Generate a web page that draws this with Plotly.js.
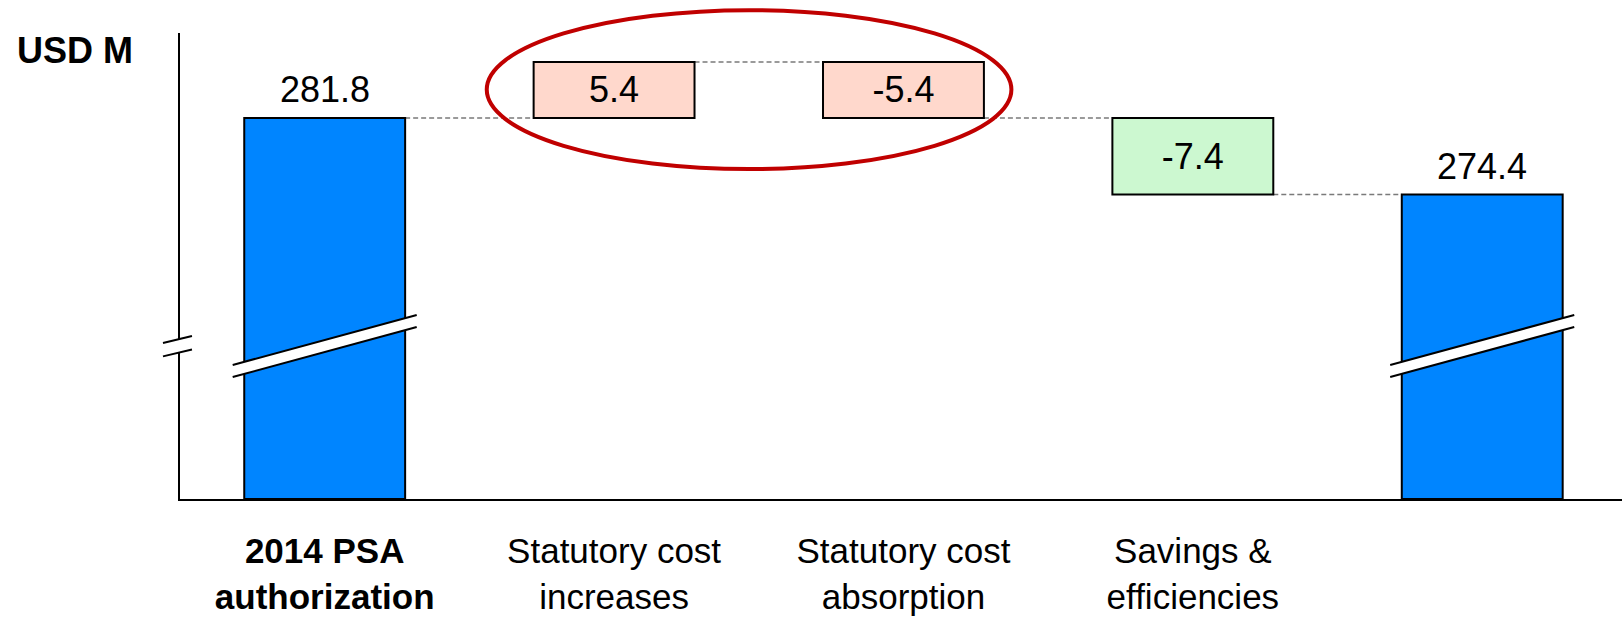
<!DOCTYPE html>
<html>
<head>
<meta charset="utf-8">
<script src="https://cdn.plot.ly/plotly-3.0.1.min.js"></script>
<style>
  html, body { margin: 0; padding: 0; background: #ffffff; }
  #chart { width: 1622px; height: 617px; }
</style>
</head>
<body>
<div id="chart"></div>
<script>
// Budget bridge, USD millions
const categories = ['2014 PSA authorization', 'Statutory cost increases', 'Statutory cost absorption', 'Savings & efficiencies', 'Revised total'];
const tickLabels = ['<b>2014 PSA</b><br><b>authorization</b>', 'Statutory cost<br>increases', 'Statutory cost<br>absorption', 'Savings &<br>efficiencies', ''];
const measures = ['absolute', 'relative', 'relative', 'relative', 'total'];
const values = [281.8, 5.4, -5.4, -7.4, 274.4];
const unitLabel = 'USD M';

// Styling
const FONT = 'Liberation Sans, Arial, Helvetica, sans-serif';
const BAR_COLORS = ['#0085FF', '#FFD8CC', '#FFD8CC', '#CCF8D0', '#0085FF'];
const Y_RANGE = [245, 290];
const BAR_W = 0.556;

// Floating bars: totals rise from the (broken) axis floor, changes float on the running level
const xs = categories.map((c, i) => i);
const bases = [], lengths = [], levels = [];
let running = 0;
values.forEach((v, i) => {
  if (measures[i] === 'relative') {
    bases.push(Math.min(running, running + v));
    lengths.push(Math.abs(v));
    running += v;
  } else {
    bases.push(Y_RANGE[0]);
    lengths.push(v - Y_RANGE[0]);
    running = v;
  }
  levels.push(running);
});

const trace = {
  type: 'bar',
  x: xs,
  y: lengths,
  base: bases,
  width: BAR_W,
  hovertext: categories,
  marker: { color: BAR_COLORS, line: { color: '#000000', width: 2 } },
  text: values.map(v => v.toFixed(1)),
  textposition: measures.map(m => m === 'relative' ? 'inside' : 'none'),
  insidetextanchor: 'middle',
  textangle: 0,
  constraintext: 'none',
  textfont: { family: FONT, size: 36, color: '#000000' },
  insidetextfont: { family: FONT, size: 36, color: '#000000' }
};

// value labels above the total bars
const annotations = [];
measures.forEach((m, i) => {
  if (m === 'relative') return;
  annotations.push({
    text: values[i].toFixed(1),
    xref: 'x', yref: 'y', x: xs[i], y: values[i],
    xanchor: 'center', yanchor: 'bottom', yshift: 6,
    showarrow: false,
    font: { family: FONT, size: 36, color: '#000000' }
  });
});

// unit caption
annotations.push({
  text: '<b>' + unitLabel + '</b>',
  xref: 'paper', yref: 'paper',
  x: -0.1144, y: 0.962,
  xanchor: 'left', yanchor: 'middle',
  showarrow: false,
  font: { family: FONT, size: 36, color: '#000000' }
});

const shapes = [];

// dashed connectors between consecutive bars
for (let i = 0; i < values.length - 1; i++) {
  shapes.push({
    type: 'line', xref: 'x', yref: 'y',
    x0: i + BAR_W / 2, x1: i + 1 - BAR_W / 2,
    y0: levels[i], y1: levels[i],
    line: { color: '#7a7a7a', width: 1.5, dash: '5px,3px' },
    layer: 'below'
  });
}

// axis-break band across the two total bars
const BRK = { half: 0.318, yl: 257.94, yr: 262.77, gap: 1.16 };
measures.forEach((m, i) => {
  if (m === 'relative') return;
  const xl = i - BRK.half, xr = i + BRK.half;
  shapes.push({
    type: 'path', xref: 'x', yref: 'y', layer: 'above',
    path: `M ${xl},${BRK.yl} L ${xr},${BRK.yr} L ${xr},${BRK.yr - BRK.gap} L ${xl},${BRK.yl - BRK.gap} Z`,
    fillcolor: '#ffffff', line: { width: 0 }
  });
  [0, BRK.gap].forEach(d => shapes.push({
    type: 'line', xref: 'x', yref: 'y', layer: 'above',
    x0: xl, x1: xr, y0: BRK.yl - d, y1: BRK.yr - d,
    line: { color: '#000000', width: 2 }
  }));
});

// axis-break mark on the value axis
const AX = { x0: -0.0118, x1: 0.0083, yl: 260.07, yr: 260.74, gap: 1.3 };
shapes.push({
  type: 'path', xref: 'paper', yref: 'y', layer: 'above',
  path: `M ${AX.x0},${AX.yl} L ${AX.x1},${AX.yr} L ${AX.x1},${AX.yr - AX.gap} L ${AX.x0},${AX.yl - AX.gap} Z`,
  fillcolor: '#ffffff', line: { width: 0 }
});
[0, AX.gap].forEach(d => shapes.push({
  type: 'line', xref: 'paper', yref: 'y', layer: 'above',
  x0: AX.x0, x1: AX.x1, y0: AX.yl - d, y1: AX.yr - d,
  line: { color: '#000000', width: 2 }
}));

// highlight ring around the statutory cost pair
shapes.push({
  type: 'circle', xref: 'x', yref: 'paper', layer: 'above',
  x0: 0.56, x1: 2.373, y0: 0.708, y1: 1.049,
  line: { color: '#C00000', width: 4 }, fillcolor: 'rgba(0,0,0,0)'
});

const layout = {
  width: 1622,
  height: 617,
  margin: { l: 180, r: 0, t: 33, b: 118, pad: 0 },
  paper_bgcolor: '#ffffff',
  plot_bgcolor: '#ffffff',
  showlegend: false,
  font: { family: FONT, color: '#000000' },
  xaxis: {
    type: 'linear',
    range: [-0.5, 4.483],
    tickvals: xs,
    ticktext: tickLabels,
    tickfont: { family: FONT, size: 35, color: '#000000' },
    ticklabelstandoff: 20,
    ticks: '',
    showgrid: false,
    zeroline: false,
    showline: true,
    linecolor: '#000000',
    linewidth: 2,
    fixedrange: true
  },
  yaxis: {
    range: Y_RANGE,
    showticklabels: false,
    ticks: '',
    showgrid: false,
    zeroline: false,
    showline: true,
    linecolor: '#000000',
    linewidth: 2,
    fixedrange: true
  },
  shapes: shapes,
  annotations: annotations
};

Plotly.newPlot('chart', [trace], layout, { displayModeBar: false, staticPlot: true });
</script>
</body>
</html>
